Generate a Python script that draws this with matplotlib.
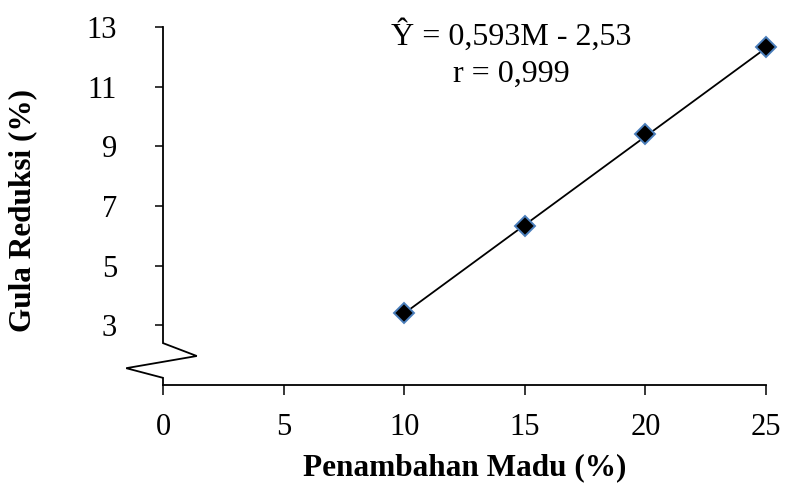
import numpy as np
import matplotlib
matplotlib.use("Agg")
from matplotlib import pyplot as plt

# data
madu = [10, 15, 20, 25]
gula = [3.40, 6.33, 9.41, 12.32]
slope, intercept = 0.593, -2.53
x_ticks = [0, 5, 10, 15, 20, 25]
y_ticks = [3, 5, 7, 9, 11, 13]

plt.rcParams["font.family"] = ["Liberation Serif", "DejaVu Serif"]

fig = plt.figure(figsize=(7.85, 4.84), dpi=100)
ax = fig.add_axes([163 / 785, 1 - 385 / 484, 603 / 785, 358 / 484])

# regression line over the measured range
fit_x = np.array([madu[0], madu[-1]])
ax.plot(fit_x, slope * fit_x + intercept, color="black", lw=1.3, zorder=2)
ax.plot(madu, gula, ls="none", marker="D", ms=10.5, mfc="black",
        mec="#4a7ebb", mew=1.4, zorder=3, clip_on=False)

ax.set_xlim(0, 25)
ax.set_ylim(1, 13)
ax.set_xticks(x_ticks)
ax.set_yticks(y_ticks)
ax.tick_params(axis="both", labelsize=22, width=1.1, color="black")
ax.tick_params(axis="x", length=7, pad=13.5)
ax.tick_params(axis="y", length=6, pad=27)

for s in ["top", "right", "left"]:
    ax.spines[s].set_visible(False)
ax.spines["bottom"].set_linewidth(1.3)

# y axis line with an axis-break zigzag near the bottom
brk_x = [0, 0, 0.056, -0.061, 0, 0]
brk_y = [1, 0.117, 0.081, 0.047, 0.020, 0]
ax.plot(brk_x, brk_y, transform=ax.transAxes, color="black", lw=1.3,
        clip_on=False, solid_joinstyle="miter")

fig.text(511 / 785, 1 - 45 / 484, "Ŷ = 0,593M - 2,53", ha="center",
         va="baseline", fontsize=23)
fig.text(511 / 785, 1 - 82 / 484, "r = 0,999", ha="center",
         va="baseline", fontsize=23)

fig.text(465 / 785, 1 - 475 / 484, "Penambahan Madu (%)", ha="center",
         va="baseline", fontsize=22.5, fontweight="bold")
fig.text(23 / 785, 1 - 210 / 484, "Gula Reduksi (%)", ha="center",
         va="center", rotation=90, fontsize=22.5, fontweight="bold")

fig.savefig("out.png", dpi=100)
